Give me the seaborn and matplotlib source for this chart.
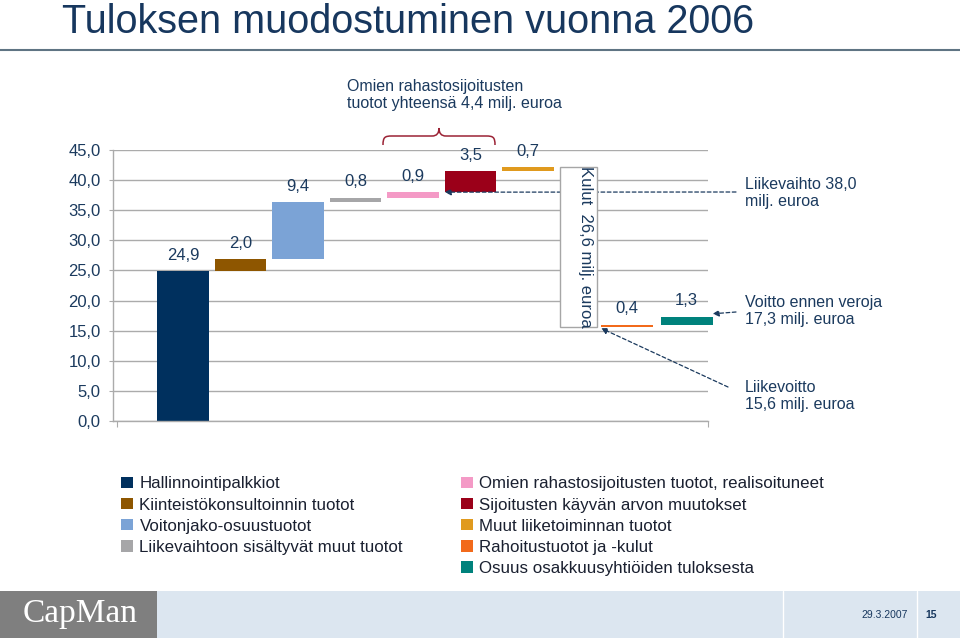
import matplotlib
matplotlib.use("Agg")
import matplotlib.pyplot as plt
import matplotlib.patches as mpatches
from matplotlib.path import Path
from matplotlib.ticker import FuncFormatter
import seaborn as sns

# data
categories = ["Hallinnointipalkkiot",
              "Kiinteistökonsultoinnin tuotot",
              "Voitonjako-osuustuotot",
              "Liikevaihtoon sisältyvät muut tuotot",
              "Omien rahastosijoitusten tuotot, realisoituneet",
              "Sijoitusten käyvän arvon muutokset",
              "Muut liiketoiminnan tuotot",
              "Rahoitustuotot ja -kulut",
              "Osuus osakkuusyhtiöiden tuloksesta"]
values = [24.9, 2.0, 9.4, 0.8, 0.9, 3.5, 0.7, 0.4, 1.3]
colors = ["#00305E", "#8E5600", "#7BA3D6", "#A6A6A8", "#F49AC6",
          "#9B0019", "#E09A1E", "#F26A1B", "#00827C"]
kulut = 26.6
kulut_label = "Kulut  26,6 milj. euroa"
yticks = [0, 5, 10, 15, 20, 25, 30, 35, 40, 45]
omien_note = "Omien rahastosijoitusten\ntuotot yhteensä 4,4 milj. euroa"
liikevaihto_note = "Liikevaihto 38,0\nmilj. euroa"
voitto_note = "Voitto ennen veroja\n17,3 milj. euroa"
liikevoitto_note = "Liikevoitto\n15,6 milj. euroa"

navy = "#1B3A5E"
grid_c = "#ABABAB"

sns.set_style("white")
plt.rcParams['font.family'] = ['Liberation Sans', 'DejaVu Sans']

fig = plt.figure(figsize=(9.6, 6.4), dpi=100)


def fx(x):
    return x / 960


def fy(y):
    return 1 - y / 640


ax = fig.add_axes([fx(113), fy(421), fx(708) - fx(113), fy(150) - fy(421)])

# positions (layout only)
xpos = [0, 1, 2, 3, 4, 5, 6, 7.72, 8.76]
kulut_x = 6.88

# waterfall bottoms
bottoms = []
level = 0.0
kulut_top = None
for i, v in enumerate(values):
    if i == 7:
        kulut_top = level
        level -= kulut
    bottoms.append(level)
    level += v

for x, v, b, c in zip(xpos, values, bottoms, colors):
    sns.barplot(x=[x], y=[v], native_scale=True, width=0.9, bottom=b,
                color=c, saturation=1, errorbar=None, ax=ax, linewidth=0,
                zorder=2, clip_on=False)
    ax.annotate(f"{v:.1f}".replace(".", ","), (x, b + v), xytext=(0, 6),
                textcoords="offset points", ha="center", va="bottom",
                fontsize=12, color=navy, zorder=6)

# Kulut box
sns.barplot(x=[kulut_x], y=[kulut], native_scale=True, width=0.64,
            bottom=kulut_top - kulut, color="white", saturation=1,
            edgecolor="#A6A6A6", linewidth=1, errorbar=None, ax=ax, zorder=4)
ax.text(kulut_x + 0.12, kulut_top - kulut / 2, kulut_label, rotation=-90,
        ha="center", va="center", fontsize=12, color=navy, zorder=5)

ax.set_xlim(-1.22, 9.13)
ax.set_ylim(0, 45)
ax.set_yticks(yticks)
ax.yaxis.set_major_formatter(FuncFormatter(lambda v, p: f"{v:.1f}".replace(".", ",")))
ax.set_xticks([-1.15, 9.13])
ax.set_xticklabels([])
ax.set_xlabel("")
ax.set_ylabel("")
ax.yaxis.grid(True, color=grid_c, linewidth=1)
ax.set_axisbelow(True)
for s in ["top", "right"]:
    ax.spines[s].set_visible(False)
for s in ["left", "bottom"]:
    ax.spines[s].set_color(grid_c)
    ax.spines[s].set_linewidth(1)
ax.tick_params(axis="y", colors=grid_c, labelcolor=navy, labelsize=12,
               length=3, direction="out", left=True, pad=6)
ax.tick_params(axis="x", colors=grid_c, length=4, direction="out", bottom=True)

# dashed arrows
arrow_kw = dict(arrowstyle="-|>", color=navy, linestyle=(0, (3, 2)),
                linewidth=0.9, mutation_scale=9, shrinkA=0, shrinkB=0)
ax.annotate("", xy=(4.55, 38.0), xycoords="data",
            xytext=(736, 640 - 192), textcoords="figure pixels",
            arrowprops=arrow_kw, annotation_clip=False, zorder=3)
ax.annotate("", xy=(9.21, 17.8), xycoords="data",
            xytext=(736, 640 - 312), textcoords="figure pixels",
            arrowprops=arrow_kw, annotation_clip=False, zorder=5)
ax.annotate("", xy=(7.27, 15.4), xycoords="data",
            xytext=(728, 640 - 387), textcoords="figure pixels",
            arrowprops=arrow_kw, annotation_clip=False, zorder=5)

# right notes
fig.text(fx(745), fy(193), liikevaihto_note, ha="left", va="center",
         fontsize=11.5, color=navy, linespacing=1.2)
fig.text(fx(745), fy(311), voitto_note, ha="left", va="center",
         fontsize=11.5, color=navy, linespacing=1.2)
fig.text(fx(745), fy(396), liikevoitto_note, ha="left", va="center",
         fontsize=11.5, color=navy, linespacing=1.2)

# top note and brace
fig.text(fx(347), fy(95), omien_note, ha="left", va="center",
         fontsize=11.5, color=navy, linespacing=1.2)
brace_pts = [(383, 145), (383, 137), (385, 136), (392, 136), (432, 136),
             (437, 136), (439, 133), (439, 128), (439, 133), (441, 136),
             (446, 136), (486, 136), (493, 136), (495, 137), (495, 145)]
codes = [Path.MOVETO, Path.CURVE4, Path.CURVE4, Path.CURVE4, Path.LINETO,
         Path.CURVE4, Path.CURVE4, Path.CURVE4, Path.CURVE4, Path.CURVE4,
         Path.CURVE4, Path.LINETO, Path.CURVE4, Path.CURVE4, Path.CURVE4]
brace = mpatches.PathPatch(Path([(fx(x), fy(y)) for x, y in brace_pts], codes),
                           transform=fig.transFigure, fill=False,
                           edgecolor="#9B2335", linewidth=1.1)
fig.patches.append(brace)

# title and rule
fig.text(fx(62), fy(22), "Tuloksen muodostuminen vuonna 2006", ha="left",
         va="center", fontsize=28.5, color="#17375E")
fig.add_artist(plt.Line2D([0, 1], [fy(50), fy(50)], transform=fig.transFigure,
                          color="#5F7483", linewidth=1.5))

# legends
handles = [mpatches.Patch(facecolor=c, edgecolor="none") for c in colors]
leg_kw = dict(loc="upper left", frameon=False, fontsize=12.2, borderpad=0,
              handlelength=0.66, handleheight=0.66, handletextpad=0.4,
              labelspacing=0.36, labelcolor="#1A2030")
fig.legend(handles[:4], categories[:4],
           bbox_to_anchor=(fx(113), fy(468)), **leg_kw)
fig.legend(handles[4:], categories[4:],
           bbox_to_anchor=(fx(453), fy(468)), **leg_kw)

# footer
fig.patches.append(mpatches.Rectangle((fx(0), fy(638)), fx(157), fy(591) - fy(638),
                                      transform=fig.transFigure,
                                      facecolor="#7F7F7F", edgecolor="none"))
fig.patches.append(mpatches.Rectangle((fx(157), fy(638)), fx(803), fy(591) - fy(638),
                                      transform=fig.transFigure,
                                      facecolor="#DCE6F0", edgecolor="none"))
for xs in [783, 917]:
    fig.add_artist(plt.Line2D([fx(xs), fx(xs)], [fy(591), fy(638)],
                              transform=fig.transFigure, color="white",
                              linewidth=1))
fig.text(fx(80), fy(614), "CapMan", ha="center", va="center", fontsize=24,
         color="white", family=["Liberation Serif", "DejaVu Serif"])
fig.text(fx(885), fy(615), "29.3.2007", ha="center", va="center", fontsize=7.5,
         color="#17375E")
fig.text(fx(931), fy(615), "15", ha="center", va="center", fontsize=7.5,
         color="#17375E", fontweight="bold")

fig.savefig("out.png", dpi=100)
